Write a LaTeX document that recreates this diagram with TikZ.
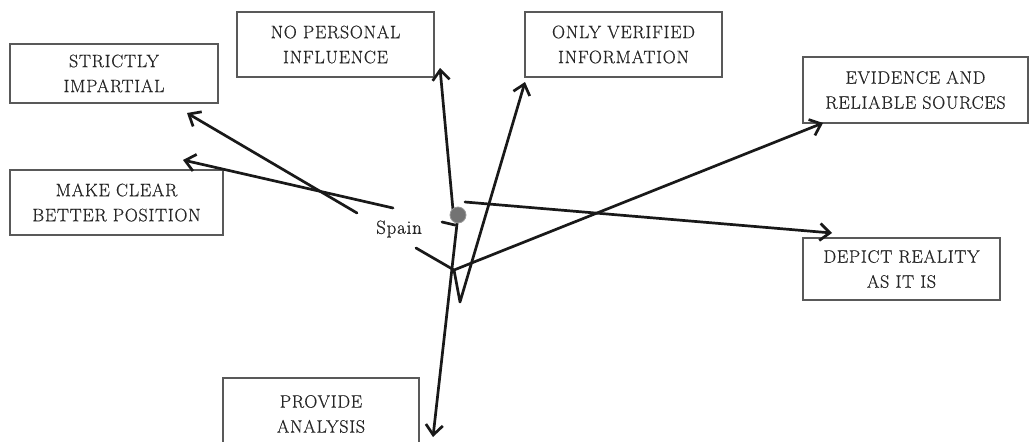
\documentclass[tikz,border=0pt]{standalone}
\usepackage{fontspec}
\setmainfont{Latin Modern Roman}[FakeBold=0.5,LetterSpace=4]
\usetikzlibrary{arrows.meta}
\begin{document}
\begin{tikzpicture}[x=1pt,y=-1pt,
  lbl/.style={draw=black!65,line width=1.2pt,align=center,inner sep=0pt,text=black!85,
    font=\fontsize{18}{25}\selectfont},
  conn/.style={line width=2.7pt,draw=black!90,line cap=round,line join=round},
  arr/.style={conn,-{Straight Barb[length=10pt,width=17pt,line width=2.7pt]}},
  spot/.style={circle,fill=black!55,draw=black!40,line width=0.8pt,minimum size=16pt,inner sep=0pt}]
\useasboundingbox (0,0) rectangle (1029,442);
\clip (0,0) rectangle (1029,442);
\fill[white] (0,0) rectangle (1029,442);

% boxes
\node[lbl,minimum width=208pt,minimum height=59pt] (si) at (114,73.5) {STRICTLY\\IMPARTIAL};
\node[lbl,minimum width=213pt,minimum height=65pt] (mc) at (116.5,202.5) {MAKE CLEAR\\BETTER POSITION};
\node[lbl,minimum width=197pt,minimum height=65pt] (np) at (335.5,44.5) {NO PERSONAL\\INFLUENCE};
\node[lbl,minimum width=197pt,minimum height=65pt] (ov) at (623.5,44.5) {ONLY VERIFIED\\INFORMATION};
\node[lbl,minimum width=225pt,minimum height=66pt] (ev) at (915.5,90) {EVIDENCE AND\\RELIABLE SOURCES};
\node[lbl,minimum width=197pt,minimum height=62pt] (dr) at (901.5,269) {DEPICT REALITY\\AS IT IS};
\node[lbl,minimum width=196pt,minimum height=72pt] (pa) at (321,414) {PROVIDE\\ANALYSIS};

% centre
\node[font=\fontsize{19}{21}\selectfont,text=black!85] (sp) at (399,229) {Spain};

% connector end points
\coordinate (a1) at (357,213);
\coordinate (t1) at (187,113);
\coordinate (a2) at (393,208);
\coordinate (t2) at (183,160);
\coordinate (a3) at (453,210);
\coordinate (t3) at (440,68);
\coordinate (vb) at (460,302);
\coordinate (t4) at (525,82);
\coordinate (vl) at (454,270);
\coordinate (a5) at (416,248);
\coordinate (t5) at (823,123);
\coordinate (a6) at (458,215);
\coordinate (t6) at (433,437);
\coordinate (a7) at (465,202);
\coordinate (t7) at (832,233);
\coordinate (k1) at (442,222);
\coordinate (k2) at (455,225);

\draw[arr] (a1) -- (t1);
\draw[arr] (a2) -- (t2);
\draw[arr] (a6) -- (t6);
\draw[arr] (a3) -- (t3);
\draw[arr] (vl) -- (vb) -- (t4);
\draw[arr] (a5) -- (vl) -- (t5);
\draw[arr] (a7) -- (t7);
\draw[conn] (k1) -- (k2);

\node[spot] (S) at (458,215) {};
\end{tikzpicture}
\end{document}
